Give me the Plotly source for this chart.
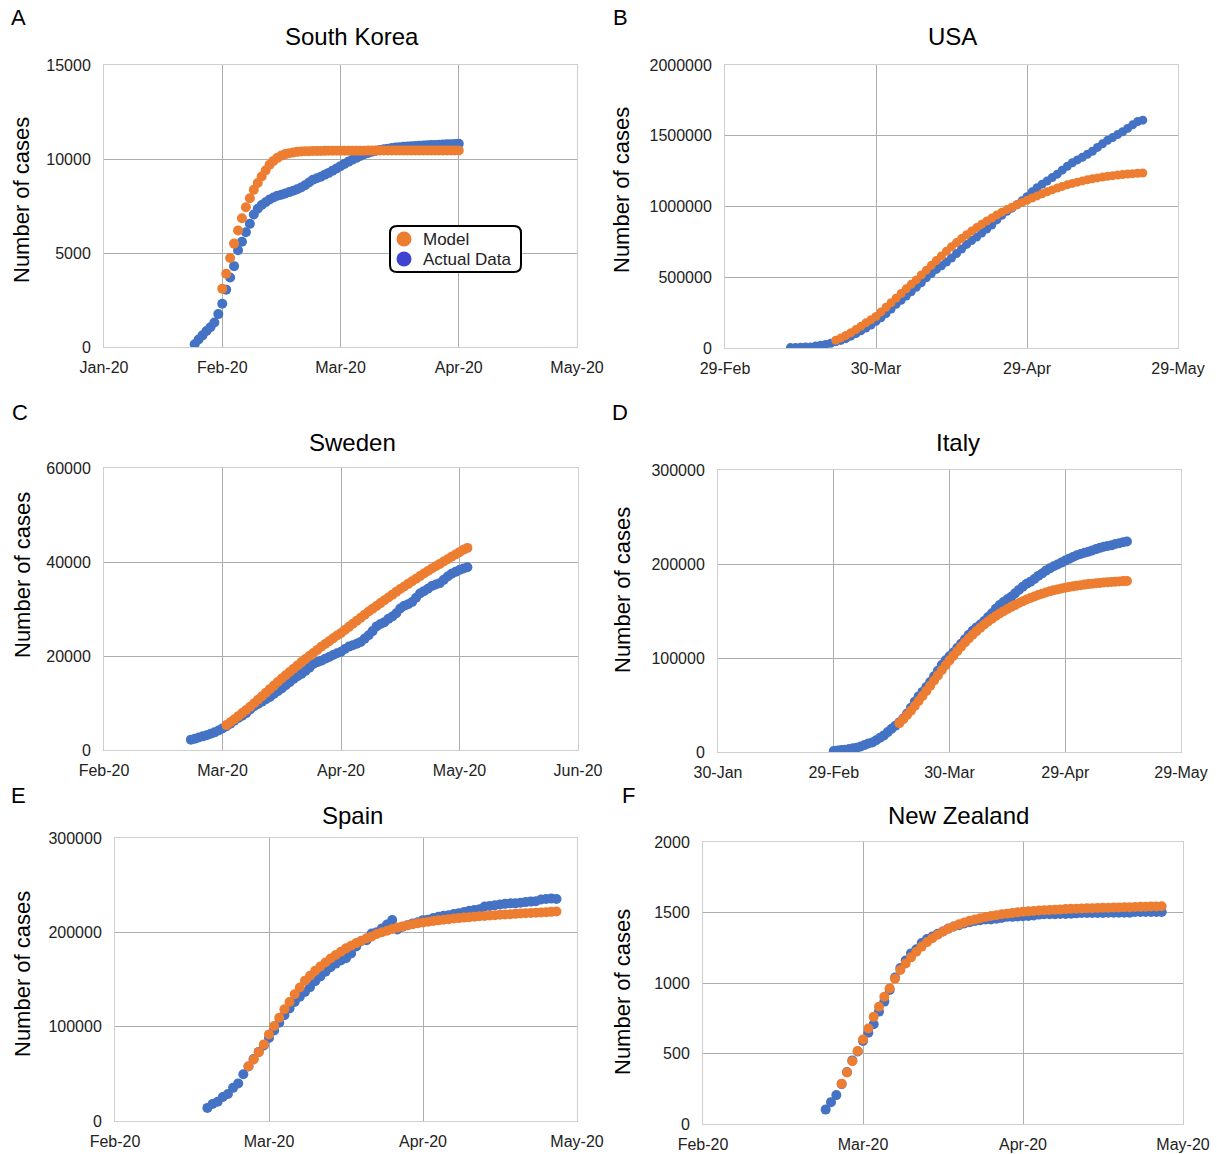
import pandas as pd
import plotly.graph_objects as go

W, H = 1217, 1154
ORANGE = "#ED7D31"
BLUE = "#4472C4"
LEGEND_BLUE = "#3C44D0"
FONT = "Liberation Sans, Arial, sans-serif"

# ---------------- data ----------------
# A: South Korea
KR_TICKS = ["2020-01-31", "2020-03-01", "2020-03-31", "2020-04-30", "2020-05-30"]
KR_LABELS = ["Jan-20", "Feb-20", "Mar-20", "Apr-20", "May-20"]
KR_ACTUAL_START = "2020-02-23"
KR_ACTUAL = [150, 400, 620, 850, 1050, 1300, 1750, 2300, 3050, 3700,
             4300, 5150, 5600, 6100, 6550, 7050, 7350, 7550, 7700, 7850,
             7950, 8050, 8100, 8170, 8240, 8310, 8390, 8480, 8600, 8750,
             8900, 8980, 9060, 9160, 9260, 9380, 9500, 9620, 9740, 9860,
             9960, 10060, 10160, 10250, 10320, 10390, 10440, 10480, 10520, 10550,
             10580, 10610, 10630, 10650, 10665, 10680, 10695, 10705, 10715, 10725,
             10740, 10750, 10760, 10770, 10780, 10790, 10800, 10810]
KR_MODEL_START = "2020-03-01"
KR_MODEL = [3100, 3900, 4730, 5500, 6200, 6850, 7430, 7910, 8360, 8720,
            9070, 9390, 9690, 9900, 10060, 10180, 10260, 10310, 10350, 10380,
            10400, 10410, 10418, 10424, 10428, 10431, 10433, 10435, 10437, 10438,
            10439, 10440, 10441, 10442, 10443, 10444, 10445, 10446, 10447, 10447,
            10448, 10448, 10449, 10449, 10450, 10450, 10450, 10451, 10451, 10451,
            10452, 10452, 10452, 10452, 10453, 10453, 10453, 10453, 10453, 10454,
            10454]

# B: USA
US_TICKS = ["2020-02-29", "2020-03-30", "2020-04-29", "2020-05-29"]
US_LABELS = ["29-Feb", "30-Mar", "29-Apr", "29-May"]
US_ACTUAL_START = "2020-03-13"
US_ACTUAL = [2700, 3500, 4600, 6400, 7800, 13700, 19100, 25500, 33300, 43800,
             53700, 65800, 83800, 101700, 121500, 140900, 161800, 188200, 213400, 243600,
             275600, 308800, 337100, 366700, 397000, 429100, 461400, 496500, 526400, 555300,
             580600, 607700, 636400, 667800, 699700, 732200, 759100, 784300, 811900, 840400,
             869200, 905400, 938200, 965800, 988200, 1012600, 1039900, 1069400, 1103500, 1132500,
             1158000, 1180400, 1204400, 1228600, 1257000, 1283900, 1309500, 1329300, 1347900, 1369400,
             1390400, 1417800, 1442800, 1467800, 1486800, 1508300, 1528600, 1551900, 1577100, 1600900,
             1610000]
US_MODEL_START = "2020-03-22"
US_MODEL = [55000, 70000, 88000, 108000, 130000, 153000, 178000, 200000, 223000,
            255000, 288000, 320000, 352000, 385000, 418000, 450000, 481000,
            516000, 550000, 584000, 618000, 650000, 684000, 716000,
            745000, 773000, 800000, 826000, 851000, 875000, 897000, 918000, 940000, 960000,
            978000, 995000, 1012000, 1028000, 1044000,
            1060000, 1075000, 1090000, 1104000, 1117000, 1130000, 1142000, 1153000, 1163000,
            1172000, 1181000, 1189000, 1196000, 1202000, 1208000, 1213000, 1218000, 1222000,
            1226000, 1229000, 1232000, 1235000, 1237000]

# C: Sweden
SE_TICKS = ["2020-03-01", "2020-03-31", "2020-04-30", "2020-05-30", "2020-06-29"]
SE_LABELS = ["Feb-20", "Mar-20", "Apr-20", "May-20", "Jun-20"]
SE_ACTUAL_START = "2020-03-23"
SE_ACTUAL = [2200, 2400, 2650, 2900, 3150, 3450, 3750, 4150, 4600, 5050,
             5600, 6250, 6800, 7300, 7850, 8600, 9300, 9800, 10300, 10800,
             11300, 11900, 12500, 13100, 13800, 14400, 15100, 15700, 16200, 16800,
             17500, 18300, 18700, 19000, 19400, 19800, 20200, 20600, 20900, 21500,
             22000, 22300, 22600, 23000, 23700, 24400, 25300, 26300, 26800, 27200,
             27900, 28400, 29100, 30100, 30700, 31000, 31500, 32400, 33300, 33800,
             34300, 34900, 35200, 35500, 36200, 36900, 37500, 37900, 38300, 38600, 38900]
SE_MODEL_START = "2020-04-01"
SE_MODEL = [5300, 5900, 6550, 7200, 7850, 8500, 9200, 9950, 10700, 11450,
            12200, 12950, 13700, 14450, 15200, 15900, 16600, 17300, 18000, 18700,
            19350, 20000, 20650, 21300, 21950, 22550, 23150, 23750, 24350, 24900,
            25550, 26200, 26850, 27500, 28150, 28800, 29450, 30050, 30650, 31250,
            31850, 32450, 33050, 33650, 34250, 34800, 35350, 35900, 36450, 37000,
            37550, 38100, 38600, 39100, 39600, 40100, 40600, 41100, 41600, 42100,
            42600, 43000]

# D: Italy
IT_TICKS = ["2020-01-30", "2020-02-29", "2020-03-30", "2020-04-29", "2020-05-29"]
IT_LABELS = ["30-Jan", "29-Feb", "30-Mar", "29-Apr", "29-May"]
IT_ACTUAL_START = "2020-02-29"
IT_ACTUAL = [1128, 1694, 2036, 2502, 3089, 3858, 4636, 5883, 7375, 9172,
             10149, 12462, 15113, 17660, 21157, 24747, 27980, 31506, 35713, 41035,
             47021, 53578, 59138, 63927, 69176, 74386, 80589, 86498, 92472, 97689,
             101739, 105792, 110574, 115242, 119827, 124632, 128948, 132547, 135586, 139422,
             143626, 147577, 152271, 156363, 159516, 162488, 165155, 168941, 172434, 175925,
             178972, 181228, 183957, 187327, 189973, 192994, 195351, 197675, 199414, 201505,
             203591, 205463, 207428, 209328, 210717, 211938, 213013, 214457, 215858, 217185,
             218268, 219070, 219814, 221216, 222104, 223096, 223885]
IT_MODEL_START = "2020-03-17"
IT_MODEL = [30500, 34800, 39300, 44000, 49000, 54200, 59500, 65000, 70500, 76000,
            81500, 87000, 92300, 97500, 102500, 107300, 112000, 116500, 120800, 124800,
            128600, 132200, 135600, 138800, 141800, 144600, 147300, 149800, 152200, 154400,
            156500, 158500, 160400, 162200, 163900, 165500, 167000, 168400, 169700, 170900,
            172000, 173000, 173900, 174700, 175500, 176200, 176900, 177500, 178100, 178600,
            179100, 179500, 179900, 180300, 180600, 180900, 181200, 181500, 181800, 182000]

# E: Spain
ES_TICKS = ["2020-02-29", "2020-03-30", "2020-04-29", "2020-05-29"]
ES_LABELS = ["Feb-20", "Mar-20", "Apr-20", "May-20"]
ES_ACTUAL_START = "2020-03-18"
ES_ACTUAL = [13910, 17963, 20410, 25374, 28603, 35136, 39885, 49515, 57786, 65719,
             73235, 80110, 87956, 95923, 104118, 112065, 119199, 126168, 131646, 136675,
             141942, 148220, 153222, 158273, 163027, 166831, 170099, 172541, 177644, 184948,
             190839, 191726, 198674, 200210, 204178, 208389, 213024, 202990, 205905, 207634,
             209465, 210773, 212917, 213435, 215216, 216582, 217466, 218011, 219329, 220325,
             221447, 222857, 223578, 224350, 227436, 228030, 228691, 229540, 230183, 230698,
             230698, 231350, 232037, 232555, 233037, 234824, 235290, 235772, 235400]
ES_MODEL_START = "2020-03-26"
ES_MODEL = [58100, 65200, 73000, 81200, 91800, 100700, 109500, 118400, 126200, 134400,
            141500, 148600, 153900, 159200, 163800, 168000, 172300, 175900, 179400, 183000,
            185800, 188600, 191100, 193600, 195700, 198200, 200000, 201700, 203500, 205000,
            206300, 207500, 208600, 209600, 210500, 211300, 212000, 212700, 213400, 214000,
            214600, 215100, 215600, 216100, 216600, 217000, 217400, 217800, 218200, 218600,
            219000, 219300, 219600, 219900, 220200, 220500, 220800, 221100, 221400, 221700,
            222000]

# F: New Zealand
NZ_TICKS = ["2020-02-29", "2020-03-30", "2020-04-29", "2020-05-29"]
NZ_LABELS = ["Feb-20", "Mar-20", "Apr-20", "May-20"]
NZ_ACTUAL_START = "2020-03-23"
NZ_ACTUAL = [102, 155, 205, 283, 368, 451, 514, 589, 647, 708,
             797, 868, 950, 1039, 1106, 1160, 1210, 1239, 1283, 1312,
             1330, 1349, 1366, 1386, 1401, 1409, 1422, 1431, 1440, 1445,
             1451, 1451, 1456, 1461, 1469, 1469, 1472, 1474, 1476, 1479,
             1485, 1487, 1487, 1488, 1489, 1490, 1492, 1494, 1497, 1497,
             1497, 1497, 1497, 1498, 1499, 1499, 1499, 1499, 1503, 1503,
             1503, 1504, 1504, 1504]
NZ_MODEL_START = "2020-03-26"
NZ_MODEL = [286, 365, 445, 518, 599, 677, 760, 831, 902, 962,
            1031, 1092, 1139, 1182, 1222, 1258, 1290, 1318, 1343, 1365,
            1384, 1401, 1416, 1429, 1441, 1451, 1460, 1468, 1475, 1481,
            1487, 1492, 1497, 1501, 1505, 1508, 1511, 1514, 1516, 1518,
            1520, 1522, 1524, 1526, 1527, 1529, 1530, 1531, 1532, 1533,
            1534, 1535, 1536, 1537, 1538, 1539, 1540, 1541, 1542, 1543,
            1544]

LEGEND_LABELS = ["Model", "Actual Data"]
LEGEND_COLORS = [ORANGE, LEGEND_BLUE]

# ---------------- layout definitions ----------------
panels = [
    dict(title="South Korea", letter="A", box=(104, 65, 577, 347), ticks=KR_TICKS, labels=KR_LABELS,
         ymax=15000, dtick=5000, actual=(KR_ACTUAL_START, KR_ACTUAL), model=(KR_MODEL_START, KR_MODEL),
         msize=10, title_xy=(352, 37), ylab_xy=(22, 200), letter_xy=(18, 18)),
    dict(title="USA", letter="B", box=(725, 65, 1178, 348), ticks=US_TICKS, labels=US_LABELS,
         ymax=2000000, dtick=500000, actual=(US_ACTUAL_START, US_ACTUAL), model=(US_MODEL_START, US_MODEL),
         msize=9, title_xy=(952, 37), ylab_xy=(622, 190), letter_xy=(620, 18)),
    dict(title="Sweden", letter="C", box=(104, 468, 578, 750), ticks=SE_TICKS, labels=SE_LABELS,
         ymax=60000, dtick=20000, actual=(SE_ACTUAL_START, SE_ACTUAL), model=(SE_MODEL_START, SE_MODEL),
         msize=10, title_xy=(352, 442), ylab_xy=(22, 575), letter_xy=(20, 412)),
    dict(title="Italy", letter="D", box=(718, 470, 1181, 752), ticks=IT_TICKS, labels=IT_LABELS,
         ymax=300000, dtick=100000, actual=(IT_ACTUAL_START, IT_ACTUAL), model=(IT_MODEL_START, IT_MODEL),
         msize=10, title_xy=(958, 442), ylab_xy=(622, 590), letter_xy=(620, 412)),
    dict(title="Spain", letter="E", box=(115, 838, 577, 1121), ticks=ES_TICKS, labels=ES_LABELS,
         ymax=300000, dtick=100000, actual=(ES_ACTUAL_START, ES_ACTUAL), model=(ES_MODEL_START, ES_MODEL),
         msize=10, title_xy=(352, 815), ylab_xy=(22, 974), letter_xy=(18, 795)),
    dict(title="New Zealand", letter="F", box=(703, 842, 1183, 1124), ticks=NZ_TICKS, labels=NZ_LABELS,
         ymax=2000, dtick=500, actual=(NZ_ACTUAL_START, NZ_ACTUAL), model=(NZ_MODEL_START, NZ_MODEL),
         msize=10, title_xy=(958, 815), ylab_xy=(622, 992), letter_xy=(628, 795)),
]


def px(x):
    return x / W


def py(y):
    return 1 - y / H


def dates(start, vals):
    return pd.date_range(start, periods=len(vals), freq="D").strftime("%Y-%m-%d").tolist()


fig = go.Figure()
annotations = []
layout_axes = {}

for i, p in enumerate(panels, start=1):
    xa = "x" if i == 1 else f"x{i}"
    ya = "y" if i == 1 else f"y{i}"
    x0, y0, x1, y1 = p["box"]
    a_start, a_vals = p["actual"]
    m_start, m_vals = p["model"]
    fig.add_trace(go.Scatter(x=dates(a_start, a_vals), y=a_vals, mode="markers", xaxis=xa, yaxis=ya,
                             marker=dict(color=BLUE, size=p["msize"], line=dict(width=0)),
                             showlegend=False, name="Actual Data"))
    fig.add_trace(go.Scatter(x=dates(m_start, m_vals), y=m_vals, mode="markers", xaxis=xa, yaxis=ya,
                             marker=dict(color=ORANGE, size=p["msize"], line=dict(width=0)),
                             showlegend=False, name="Model"))
    common = dict(showline=True, mirror=True, linecolor="#CFCFCF", linewidth=1,
                  showgrid=True, gridcolor="#ADADAD", gridwidth=1, zeroline=False,
                  automargin=False,
                  tickfont=dict(family=FONT, size=16, color="#222222"),
                  ticks="outside", tickcolor="rgba(0,0,0,0)")
    layout_axes["xaxis" if i == 1 else f"xaxis{i}"] = dict(
        common, type="date", domain=[px(x0), px(x1)], anchor=ya,
        range=[p["ticks"][0], p["ticks"][-1]], tickmode="array",
        tickvals=p["ticks"], ticktext=p["labels"], ticklen=6)
    layout_axes["yaxis" if i == 1 else f"yaxis{i}"] = dict(
        common, domain=[py(y1), py(y0)], anchor=xa,
        range=[0, p["ymax"]], dtick=p["dtick"], tick0=0, ticklen=9, tickformat="d")
    tx, ty = p["title_xy"]
    annotations.append(dict(text=p["title"], x=px(tx), y=py(ty), xref="paper", yref="paper",
                            showarrow=False, xanchor="center", yanchor="middle",
                            font=dict(family=FONT, size=24, color="#000000")))
    lx, ly = p["ylab_xy"]
    annotations.append(dict(text="Number of cases", x=px(lx), y=py(ly), xref="paper", yref="paper",
                            showarrow=False, textangle=-90, xanchor="center", yanchor="middle",
                            font=dict(family=FONT, size=22, color="#000000")))
    kx, ky = p["letter_xy"]
    annotations.append(dict(text=p["letter"], x=px(kx), y=py(ky), xref="paper", yref="paper",
                            showarrow=False, xanchor="center", yanchor="middle",
                            font=dict(family=FONT, size=22, color="#000000")))

# custom legend for panel A: rounded box, round symbols, labels
shapes = []
bx0, by0, bx1, by1 = px(390), py(226), px(521), py(272)
rx, ry = 7 / W, 7 / H
path = (f"M {bx0+rx},{by0} L {bx1-rx},{by0} Q {bx1},{by0} {bx1},{by0-ry} "
        f"L {bx1},{by1+ry} Q {bx1},{by1} {bx1-rx},{by1} L {bx0+rx},{by1} "
        f"Q {bx0},{by1} {bx0},{by1+ry} L {bx0},{by0-ry} Q {bx0},{by0} {bx0+rx},{by0} Z")
shapes.append(dict(type="path", path=path, xref="paper", yref="paper", layer="above",
                   fillcolor="white", line=dict(color="black", width=2)))
for k, (lab, col) in enumerate(zip(LEGEND_LABELS, LEGEND_COLORS)):
    cy = 239 + 20 * k
    shapes.append(dict(type="circle", xref="paper", yref="paper", layer="above",
                       x0=px(404 - 7.5), x1=px(404 + 7.5), y0=py(cy + 7.5), y1=py(cy - 7.5),
                       fillcolor=col, line=dict(width=0)))
    annotations.append(dict(text=lab, x=px(421), y=py(cy), xref="paper", yref="paper",
                            showarrow=False, xanchor="left", yanchor="middle",
                            font=dict(family=FONT, size=17, color="#222222")))

fig.update_layout(
    width=W, height=H, autosize=False,
    margin=dict(l=0, r=0, t=0, b=0, pad=0),
    paper_bgcolor="white", plot_bgcolor="white",
    font=dict(family=FONT, color="#000000"),
    showlegend=False,
    annotations=annotations,
    shapes=shapes,
    **layout_axes,
)

fig.write_html("out.html", config={"displayModeBar": False})
